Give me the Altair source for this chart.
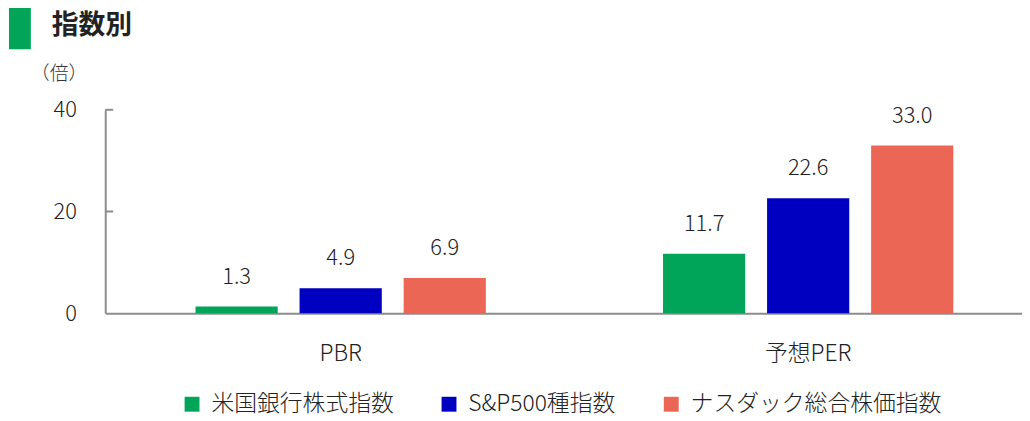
import altair as alt
import pandas as pd

categories = ["PBR", "予想PER"]
series = ["米国銀行株式指数", "S&P500種指数", "ナスダック総合株価指数"]
colors = ["#00A55A", "#0000C0", "#EB6655"]
values_pbr = [1.3, 4.9, 6.9]
values_per = [11.7, 22.6, 33.0]
y_ticks = [0, 20, 40]
title_text = "指数別"
unit_text = "（倍）"

rows = []
for s, v in zip(series, values_pbr):
    rows.append({"cat": categories[0], "series": s, "value": v})
for s, v in zip(series, values_per):
    rows.append({"cat": categories[1], "series": s, "value": v})
df = pd.DataFrame(rows)
df["label"] = df["value"].map(lambda v: f"{v:.1f}")

FONT = "Noto Sans CJK JP"
LW = 300

x_enc = alt.X("cat:N", sort=categories, title=None,
              scale=alt.Scale(paddingInner=0.379, paddingOuter=0.17, align=0.568),
              axis=alt.Axis(ticks=False, labelPadding=30, labelFontSize=23,
                            labelColor="#222", domainColor="#8c8c8c", domainWidth=2,
                            labelAngle=0, labelFont=FONT, labelFontWeight=LW))
xoff = alt.XOffset("series:N", sort=series,
                   scale=alt.Scale(paddingInner=0.21, paddingOuter=0))
y_enc = alt.Y("value:Q", title=unit_text,
              scale=alt.Scale(domain=[0, 40], nice=False),
              axis=alt.Axis(values=y_ticks, ticks=False, grid=False, labelPadding=29,
                            labelFontSize=22, labelColor="#222", labelFont=FONT,
                            labelFontWeight=LW,
                            domainColor="#8c8c8c", domainWidth=2,
                            titleAngle=0, titleX=-47, titleY=-37, titleAlign="center",
                            titleBaseline="middle", titleFontSize=19,
                            titleFontWeight=LW, titleColor="#333", titleFont=FONT))

color_enc = alt.Color("series:N", sort=series,
                      scale=alt.Scale(domain=series, range=colors),
                      legend=alt.Legend(title=None, orient="none", direction="horizontal",
                                        legendX=76, legendY=285, symbolType="square",
                                        symbolSize=225, symbolStrokeWidth=0,
                                        labelFontSize=23, labelFont=FONT, labelColor="#222",
                                        labelFontWeight=LW,
                                        labelOffset=8, columnPadding=44, labelLimit=400))

bars = alt.Chart(df).mark_bar().encode(x=x_enc, xOffset=xoff, y=y_enc, color=color_enc)

labels = alt.Chart(df).mark_text(baseline="bottom", dy=-18, fontSize=22, font=FONT,
                                 fontWeight=LW, color="#222").encode(
    x=alt.X("cat:N", sort=categories),
    xOffset=alt.XOffset("series:N", sort=series),
    y="value:Q",
    text="label:N",
)

tick_df = pd.DataFrame({"t": [t for t in y_ticks if t > 0]})
ticks = alt.Chart(tick_df).mark_rule(color="#8c8c8c", strokeWidth=2).encode(
    y="t:Q", x=alt.value(0), x2=alt.value(8))

title_df = pd.DataFrame({"t": [title_text]})
title_mark = alt.Chart(title_df).mark_text(align="left", baseline="middle", fontSize=27,
                                           fontWeight="bold", font=FONT, color="#222").encode(
    text="t:N", x=alt.value(-54), y=alt.value(-84))
title_bar = alt.Chart(title_df).mark_rect(color="#00A55A").encode(
    x=alt.value(-97), x2=alt.value(-75), y=alt.value(-106), y2=alt.value(-61))

chart = alt.layer(bars, labels, ticks, title_bar, title_mark).properties(
    width=924, height=205,
    autosize=alt.AutoSizeParams(type="none"),
    padding={"left": 98, "top": 101, "right": 0, "bottom": 100},
).configure_view(stroke=None)

chart.save("out.html", embed_options={"renderer": "svg", "actions": False})
